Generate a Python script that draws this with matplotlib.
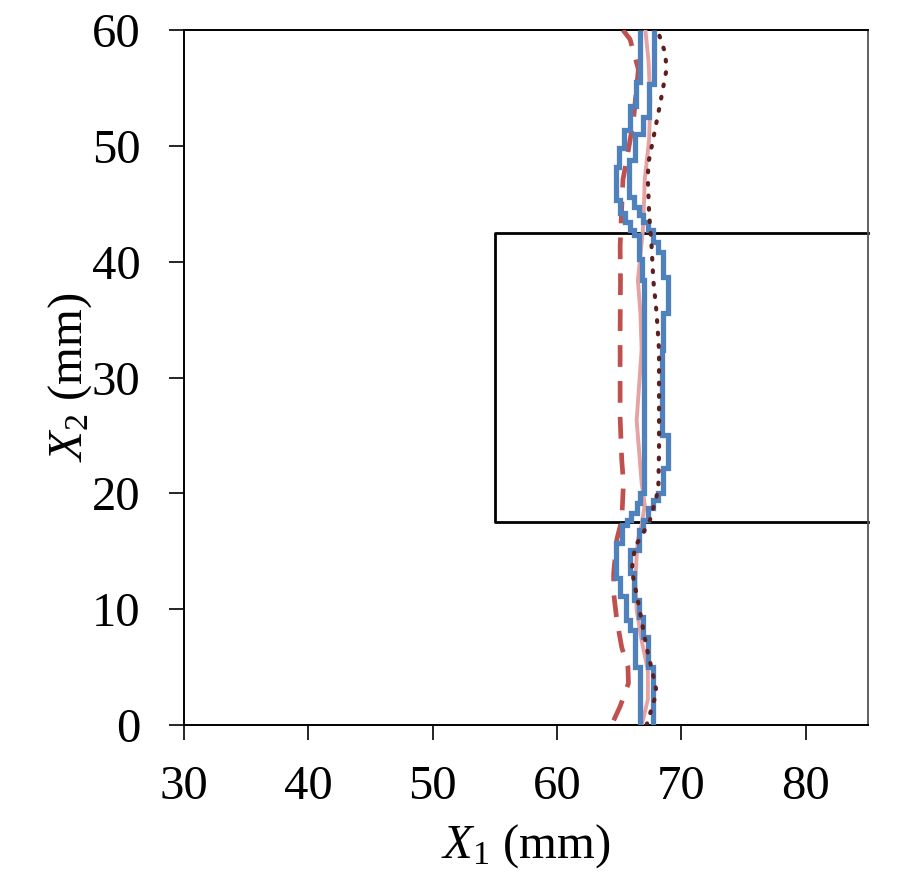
import matplotlib
matplotlib.use("Agg")
import matplotlib.pyplot as plt

plt.rcParams["font.family"] = "Liberation Serif"
plt.rcParams["mathtext.fontset"] = "custom"
plt.rcParams["mathtext.rm"] = "Liberation Serif"
plt.rcParams["mathtext.it"] = "Liberation Serif:italic"

FONT_SIZE = 35

BLUE = "#4F81BD"
PINK = "#E6A3A3"
RED = "#C0504D"
DARK = "#5E1F1F"

# stepped band (blue): left and right boundaries, y edges (bottom -> top) and x per step
left_edges = [0, 5.0, 8.2, 9.1, 11.1, 12.7, 15.7, 17.3, 17.7, 18.3, 19.2, 20.0,
              38.4, 40.2, 42.3, 42.7, 43.4, 44.2, 45.3, 48.2, 49.8, 51.4, 53.4, 55.5, 60]
left_x = [66.7, 66.3, 65.9, 65.55, 65.1, 64.7, 65.2, 65.6, 65.95, 66.4, 66.7, 67.0,
          66.8, 66.55, 66.2, 65.9, 65.5, 65.1, 64.7, 64.95, 65.4, 65.9, 66.35, 66.7]

right_edges = [0, 5.0, 7.6, 9.3, 10.8, 13.1, 15.1, 16.8, 17.7, 18.7, 19.4, 20.0, 22.2, 25.0,
               32.4, 35.6, 38.7, 40.8, 41.7, 42.7, 43.4, 44.0, 44.7, 45.6, 48.8, 51.0, 52.5,
               55.3, 60]
right_x = [67.75, 67.35, 66.95, 66.55, 66.15, 65.85, 66.55, 66.95, 67.35, 67.75, 68.15,
           68.55, 68.95, 68.45, 68.55, 68.9, 68.55, 68.15, 67.75, 67.35, 66.95, 66.55,
           66.15, 65.8, 66.25, 66.95, 67.4, 67.8]

# pink solid
pink_y = [0, 0.4, 2.2, 4.7, 7.3, 9.9, 12.5, 14.7, 16.0, 17.3, 19.0, 20.9, 26.3, 32.4,
          35.6, 38.4, 42.7, 45.3, 47.1, 50.5, 54.0, 57.4, 60]
pink_x = [66.8, 66.9, 67.3, 67.3, 66.8, 66.4, 66.3, 66.4, 66.5, 66.8, 67.05, 66.8, 66.4,
          66.8, 66.7, 66.5, 66.9, 67.0, 67.05, 67.4, 67.5, 67.35, 67.1]

# red dashed
red_y = [0.4, 1.6, 3.6, 5.0, 6.7, 9.1, 11.4, 13.1, 16.0, 17.7, 20.9, 22.9, 26.6, 30.0,
         34.0, 38.4, 41.3, 44.7, 47.1, 48.8, 52.2, 56.6, 59.2, 60]
red_x = [64.55, 65.07, 65.74, 65.7, 65.2, 64.8, 64.55, 64.55, 64.8, 65.2, 65.34, 65.2,
         65.07, 65.07, 65.07, 65.1, 65.07, 65.2, 65.3, 65.6, 66.14, 66.54, 65.87, 65.3]

# dark dotted
dot_y = [0, 2.8, 3.6, 6.7, 10.5, 13.4, 15.4, 16.6, 17.7, 20.3, 23.7, 28.1, 32.4, 35.6,
         38.4, 41.3, 44.2, 47.1, 48.5, 51.4, 53.7, 56.6, 58.0, 59.8]
dot_x = [67.2, 68.0, 67.88, 67.2, 66.54, 66.0, 66.27, 66.94, 67.47, 68.14, 68.2, 68.2,
         68.2, 68.0, 67.74, 67.6, 67.4, 67.3, 67.34, 67.88, 68.3, 68.8, 68.7, 68.14]

# rectangular region
region_x = [55, 85]
region_y = [17.5, 42.5]

x_ticks = [30, 40, 50, 60, 70, 80]
y_ticks = [0, 10, 20, 30, 40, 50, 60]

fig = plt.figure(figsize=(9.1, 8.86), dpi=100)
ax = fig.add_axes([0.2022, 0.1817, 0.7516, 0.7844])

ax.plot(red_x, red_y, color=RED, linewidth=3.4, dashes=(4.6, 3.0), zorder=3)
ax.plot(pink_x, pink_y, color=PINK, linewidth=2.8, zorder=3)
ax.stairs(left_x, left_edges, orientation="horizontal", baseline=None,
          color=BLUE, linewidth=3.8, zorder=4)
ax.stairs(right_x, right_edges, orientation="horizontal", baseline=None,
          color=BLUE, linewidth=3.8, zorder=4)
ax.plot(dot_x, dot_y, color=DARK, linewidth=3.0, linestyle=(0, (0.4, 2.6)),
        dash_capstyle="round", zorder=5)

x0, x1 = region_x
y0, y1 = region_y
ax.plot([x1, x0, x0, x1], [y1, y1, y0, y0], color="black", linewidth=2.0,
        clip_on=False, zorder=2)

ax.set_xlim(30, 85)
ax.set_ylim(0, 60)
ax.set_xticks(x_ticks)
ax.set_yticks(y_ticks)
ax.tick_params(direction="out", length=10.5, width=1.2, labelsize=FONT_SIZE, pad=18)
ax.tick_params(axis="y", pad=21)

for side in ("left", "bottom", "top"):
    ax.spines[side].set_linewidth(1.4)
    ax.spines[side].set_color("black")
ax.spines["right"].set_linewidth(1.3)
ax.spines["right"].set_color("#555555")

ax.set_xlabel(r"$\mathit{X_1}$ (mm)", fontsize=FONT_SIZE, labelpad=10)
ax.set_ylabel(r"$\mathit{X_2}$ (mm)", fontsize=FONT_SIZE, labelpad=-2)

fig.savefig("out.png", dpi=100, facecolor="white")
